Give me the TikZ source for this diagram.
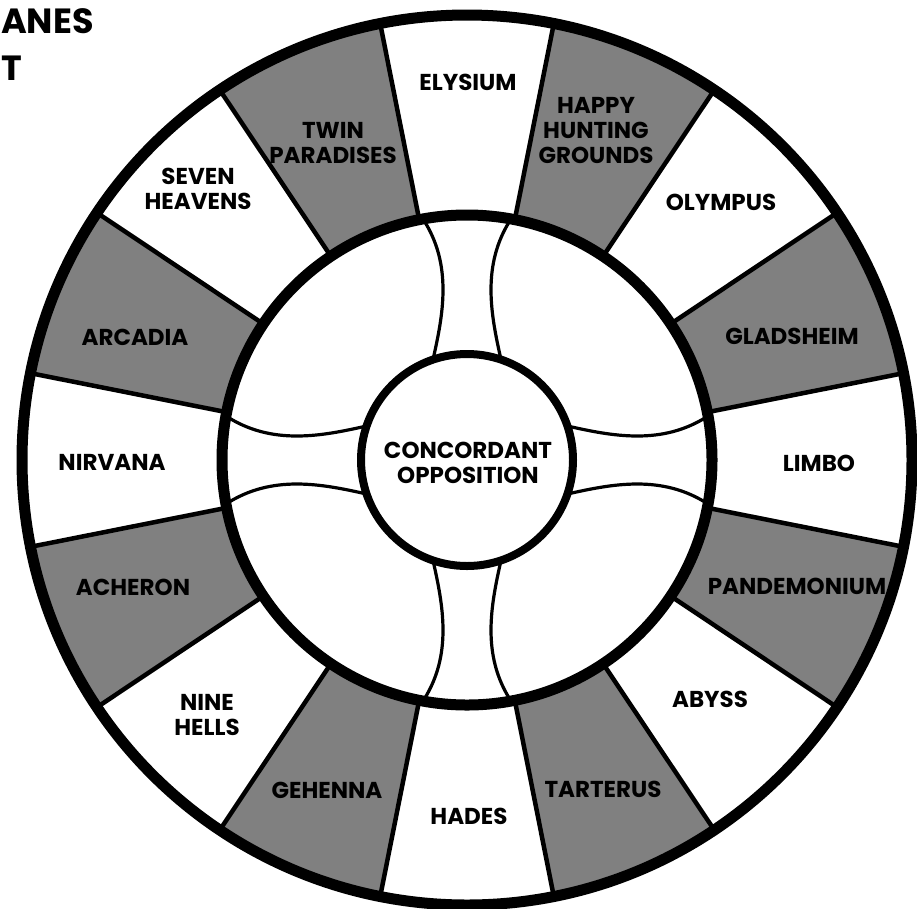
\documentclass[tikz,border=0pt]{standalone}
\usepackage{fontspec}
\setmainfont{Poppins}
\usetikzlibrary{calc}
\begin{document}
\begin{tikzpicture}[x=1pt,y=-1pt,
  lbl/.style={font=\bfseries\fontsize{23}{25}\selectfont, align=center, inner sep=0pt},
  ttl/.style={font=\bfseries\fontsize{35}{40}\selectfont, inner sep=0pt},
  shadedsector/.style={fill=black!50},
  spoke/.style={line width=4.5pt},
  arm/.style={line width=3.2pt},
  ring/.style={line width=11pt},
  corering/.style={line width=8pt}]
\fill[white] (0,0) rectangle (917,908);
\useasboundingbox (0,0) rectangle (917,908);
\clip (0,0) rectangle (917,908);
\coordinate (c) at (467,460);
\def\ROut{445}
\def\RMid{245}
\def\RIn{106}
% shaded sectors
\begin{scope}
  \clip (c) circle[radius=\ROut];
  \foreach \k in {1,3,...,15} {
    \pgfmathsetmacro\aa{90+22.5*\k-11.25}
    \pgfmathsetmacro\bb{90+22.5*\k+11.25}
    \fill[shadedsector] (c) -- ($(c)+(\aa:600)$) -- ($(c)+(\bb:600)$) -- cycle;
  }
\end{scope}
\fill[white] (c) circle[radius=\RMid];
% spokes
\foreach \j in {0,...,15} {
  \pgfmathsetmacro\aa{11.25+22.5*\j}
  \draw[spoke] ($(c)+(\aa:\RMid)$) -- ($(c)+(\aa:\ROut)$);
}
% arms
\foreach \r in {0,90,180,270} {
  \begin{scope}[shift={(c)}, rotate=\r]
    \draw[arm] (241,44) .. controls (195,14) and (145,24) .. (100.4,34);
    \draw[arm] (241,-44) .. controls (195,-14) and (145,-24) .. (100.4,-34);
  \end{scope}
}
% rings
\draw[ring] (c) circle[radius=\ROut];
\draw[ring] (c) circle[radius=\RMid];
\draw[corering] (c) circle[radius=\RIn];
% labels
\node[lbl] (core) at (468,463) {CONCORDANT\\OPPOSITION};
\node[lbl] (elysium) at (468,82) {ELYSIUM};
\node[lbl] (happy) at (596,131) {HAPPY\\HUNTING\\GROUNDS};
\node[lbl] (olympus) at (721,202) {OLYMPUS};
\node[lbl] (gladsheim) at (792,336) {GLADSHEIM};
\node[lbl] (limbo) at (819,463) {LIMBO};
\node[lbl] (pandemonium) at (797,586) {PANDEMONIUM};
\node[lbl] (abyss) at (710,699) {ABYSS};
\node[lbl] (tarterus) at (603,789) {TARTERUS};
\node[lbl] (hades) at (469,816) {HADES};
\node[lbl] (gehenna) at (327,790) {GEHENNA};
\node[lbl] (ninehells) at (207,715) {NINE\\HELLS};
\node[lbl] (acheron) at (133,587) {ACHERON};
\node[lbl] (nirvana) at (112,462) {NIRVANA};
\node[lbl] (arcadia) at (135,337) {ARCADIA};
\node[lbl] (seven) at (198,189) {SEVEN\\HEAVENS};
\node[lbl] (twin) at (333,143) {TWIN\\PARADISES};
% title fragments
\node[ttl, anchor=base west] (titleA) at (1,33) {ANES};
\node[ttl, anchor=base west] (titleB) at (1,80) {T};
\end{tikzpicture}
\end{document}
